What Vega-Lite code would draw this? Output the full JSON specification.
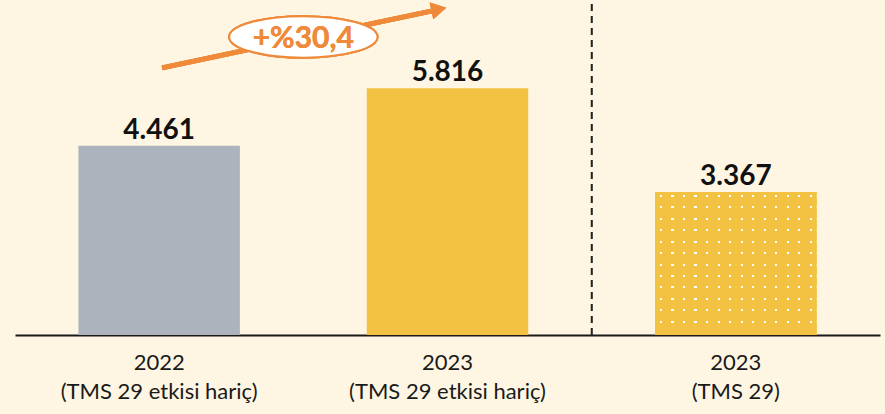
{
  "$schema": "https://vega.github.io/schema/vega-lite/v6.json",
  "width": 865,
  "height": 335,
  "autosize": {"type": "none"},
  "padding": {"left": 15, "right": 5, "top": 0, "bottom": 79},
  "background": "#FEF6E3",
  "config": {"view": {"stroke": null}, "font": "Lato"},
  "data": {"values": [
    {"kategori": "2022|(TMS 29 etkisi hariç)", "deger": 4.461, "etiket": "4.461", "grup": "2022"},
    {"kategori": "2023|(TMS 29 etkisi hariç)", "deger": 5.816, "etiket": "5.816", "grup": "2023"},
    {"kategori": "2023|(TMS 29)", "deger": 3.367, "etiket": "3.367", "grup": "2023 TMS"}
  ]},
  "resolve": {"scale": {"x": "independent"}},
  "layer": [
    {
      "encoding": {
        "x": {"field": "kategori", "type": "nominal", "sort": null,
          "scale": {"paddingInner": 0.44, "paddingOuter": 0.22},
          "axis": {"title": null, "labelExpr": "split(datum.label, '|')", "labelAngle": 0,
            "labelFontSize": 22, "labelColor": "#1a1a1a", "labelLineHeight": 29, "labelLimit": 0,
            "labelPadding": 17, "ticks": false, "domainColor": "#1a1a1a", "domainWidth": 2,
            "labelFont": "Lato"}},
        "y": {"field": "deger", "type": "quantitative", "scale": {"domain": [0, 7.9], "nice": false}, "axis": null}
      },
      "layer": [
        {
          "mark": {"type": "bar"},
          "encoding": {
            "color": {"field": "grup", "type": "nominal",
              "scale": {"domain": ["2022", "2023", "2023 TMS"], "range": ["#ADB3BD", "#F4C242", "#F4C242"]},
              "legend": null}
          }
        },
        {
          "transform": [{"filter": "datum.grup === '2023 TMS'"}],
          "mark": {"type": "bar", "fill": {"gradient": "linear", "x1": 0, "y1": 0, "x2": 0, "y2": 1, "stops": [
            {"offset": 0, "color": "#F4C242"},
            {"offset": 0.02, "color": "#F4C242"}, {"offset": 0.02, "color": "#FFFFFF"}, {"offset": 0.034, "color": "#FFFFFF"}, {"offset": 0.034, "color": "#F4C242"},
            {"offset": 0.10, "color": "#F4C242"}, {"offset": 0.10, "color": "#FFFFFF"}, {"offset": 0.114, "color": "#FFFFFF"}, {"offset": 0.114, "color": "#F4C242"},
            {"offset": 0.18, "color": "#F4C242"}, {"offset": 0.18, "color": "#FFFFFF"}, {"offset": 0.194, "color": "#FFFFFF"}, {"offset": 0.194, "color": "#F4C242"},
            {"offset": 0.26, "color": "#F4C242"}, {"offset": 0.26, "color": "#FFFFFF"}, {"offset": 0.274, "color": "#FFFFFF"}, {"offset": 0.274, "color": "#F4C242"},
            {"offset": 0.34, "color": "#F4C242"}, {"offset": 0.34, "color": "#FFFFFF"}, {"offset": 0.354, "color": "#FFFFFF"}, {"offset": 0.354, "color": "#F4C242"},
            {"offset": 0.42, "color": "#F4C242"}, {"offset": 0.42, "color": "#FFFFFF"}, {"offset": 0.434, "color": "#FFFFFF"}, {"offset": 0.434, "color": "#F4C242"},
            {"offset": 0.50, "color": "#F4C242"}, {"offset": 0.50, "color": "#FFFFFF"}, {"offset": 0.514, "color": "#FFFFFF"}, {"offset": 0.514, "color": "#F4C242"},
            {"offset": 0.58, "color": "#F4C242"}, {"offset": 0.58, "color": "#FFFFFF"}, {"offset": 0.594, "color": "#FFFFFF"}, {"offset": 0.594, "color": "#F4C242"},
            {"offset": 0.66, "color": "#F4C242"}, {"offset": 0.66, "color": "#FFFFFF"}, {"offset": 0.674, "color": "#FFFFFF"}, {"offset": 0.674, "color": "#F4C242"},
            {"offset": 0.74, "color": "#F4C242"}, {"offset": 0.74, "color": "#FFFFFF"}, {"offset": 0.754, "color": "#FFFFFF"}, {"offset": 0.754, "color": "#F4C242"},
            {"offset": 0.82, "color": "#F4C242"}, {"offset": 0.82, "color": "#FFFFFF"}, {"offset": 0.834, "color": "#FFFFFF"}, {"offset": 0.834, "color": "#F4C242"},
            {"offset": 0.90, "color": "#F4C242"}, {"offset": 0.90, "color": "#FFFFFF"}, {"offset": 0.914, "color": "#FFFFFF"}, {"offset": 0.914, "color": "#F4C242"},
            {"offset": 1, "color": "#F4C242"}
          ]}}
        },
        {
          "transform": [{"filter": "datum.grup === '2023 TMS'"}],
          "mark": {"type": "bar", "fill": {"gradient": "linear", "x1": 0, "y1": 0, "x2": 1, "y2": 0, "stops": [
            {"offset": 0, "color": "#F4C242"},
            {"offset": 0.03, "color": "#F4C242"}, {"offset": 0.03, "color": "rgba(244,194,66,0)"}, {"offset": 0.043, "color": "rgba(244,194,66,0)"}, {"offset": 0.043, "color": "#F4C242"},
            {"offset": 0.101, "color": "#F4C242"}, {"offset": 0.101, "color": "rgba(244,194,66,0)"}, {"offset": 0.114, "color": "rgba(244,194,66,0)"}, {"offset": 0.114, "color": "#F4C242"},
            {"offset": 0.173, "color": "#F4C242"}, {"offset": 0.173, "color": "rgba(244,194,66,0)"}, {"offset": 0.186, "color": "rgba(244,194,66,0)"}, {"offset": 0.186, "color": "#F4C242"},
            {"offset": 0.244, "color": "#F4C242"}, {"offset": 0.244, "color": "rgba(244,194,66,0)"}, {"offset": 0.257, "color": "rgba(244,194,66,0)"}, {"offset": 0.257, "color": "#F4C242"},
            {"offset": 0.316, "color": "#F4C242"}, {"offset": 0.316, "color": "rgba(244,194,66,0)"}, {"offset": 0.329, "color": "rgba(244,194,66,0)"}, {"offset": 0.329, "color": "#F4C242"},
            {"offset": 0.387, "color": "#F4C242"}, {"offset": 0.387, "color": "rgba(244,194,66,0)"}, {"offset": 0.400, "color": "rgba(244,194,66,0)"}, {"offset": 0.400, "color": "#F4C242"},
            {"offset": 0.459, "color": "#F4C242"}, {"offset": 0.459, "color": "rgba(244,194,66,0)"}, {"offset": 0.472, "color": "rgba(244,194,66,0)"}, {"offset": 0.472, "color": "#F4C242"},
            {"offset": 0.530, "color": "#F4C242"}, {"offset": 0.530, "color": "rgba(244,194,66,0)"}, {"offset": 0.543, "color": "rgba(244,194,66,0)"}, {"offset": 0.543, "color": "#F4C242"},
            {"offset": 0.601, "color": "#F4C242"}, {"offset": 0.601, "color": "rgba(244,194,66,0)"}, {"offset": 0.614, "color": "rgba(244,194,66,0)"}, {"offset": 0.614, "color": "#F4C242"},
            {"offset": 0.673, "color": "#F4C242"}, {"offset": 0.673, "color": "rgba(244,194,66,0)"}, {"offset": 0.686, "color": "rgba(244,194,66,0)"}, {"offset": 0.686, "color": "#F4C242"},
            {"offset": 0.744, "color": "#F4C242"}, {"offset": 0.744, "color": "rgba(244,194,66,0)"}, {"offset": 0.757, "color": "rgba(244,194,66,0)"}, {"offset": 0.757, "color": "#F4C242"},
            {"offset": 0.816, "color": "#F4C242"}, {"offset": 0.816, "color": "rgba(244,194,66,0)"}, {"offset": 0.829, "color": "rgba(244,194,66,0)"}, {"offset": 0.829, "color": "#F4C242"},
            {"offset": 0.887, "color": "#F4C242"}, {"offset": 0.887, "color": "rgba(244,194,66,0)"}, {"offset": 0.900, "color": "rgba(244,194,66,0)"}, {"offset": 0.900, "color": "#F4C242"},
            {"offset": 0.959, "color": "#F4C242"}, {"offset": 0.959, "color": "rgba(244,194,66,0)"}, {"offset": 0.972, "color": "rgba(244,194,66,0)"}, {"offset": 0.972, "color": "#F4C242"},
            {"offset": 1, "color": "#F4C242"}
          ]}}
        },
        {
          "mark": {"type": "text", "fontSize": 28, "fontWeight": "bold", "color": "#111111", "baseline": "alphabetic", "dy": -7, "font": "Lato"},
          "encoding": {"text": {"field": "etiket", "type": "nominal"}}
        }
      ]
    },
    {
      "mark": {"type": "rule", "color": "#222222", "strokeWidth": 1.5, "strokeDash": [7, 5]},
      "encoding": {
        "x": {"datum": 2, "type": "quantitative", "scale": {"domain": [0, 3], "nice": false}, "axis": null},
        "y": {"datum": 0, "type": "quantitative", "scale": {"domain": [0, 7.9], "nice": false}, "axis": null},
        "y2": {"datum": 7.9}
      }
    },
    {
      "mark": {"type": "rule", "color": "#EE8A3A", "strokeWidth": 5},
      "encoding": {
        "x": {"datum": 0.51, "type": "quantitative", "scale": {"domain": [0, 3], "nice": false}, "axis": null},
        "y": {"datum": 6.3, "type": "quantitative", "scale": {"domain": [0, 7.9], "nice": false}, "axis": null},
        "x2": {"datum": 1.46},
        "y2": {"datum": 7.66}
      }
    },
    {
      "mark": {"type": "point", "shape": "triangle-right", "filled": true, "color": "#EE8A3A", "opacity": 1, "size": 300, "angle": -12},
      "encoding": {
        "x": {"datum": 1.47, "type": "quantitative", "scale": {"domain": [0, 3], "nice": false}, "axis": null},
        "y": {"datum": 7.68, "type": "quantitative", "scale": {"domain": [0, 7.9], "nice": false}, "axis": null}
      }
    },
    {
      "mark": {"type": "point", "shape": "M-1,0A1,0.28,0,1,1,1,0A1,0.28,0,1,1,-1,0Z", "filled": false, "fill": "#FFFFFF", "fillOpacity": 1, "stroke": "#EE8A3A", "strokeWidth": 2, "opacity": 1, "size": 22000},
      "encoding": {
        "x": {"datum": 1.0, "type": "quantitative", "scale": {"domain": [0, 3], "nice": false}, "axis": null},
        "y": {"datum": 7.03, "type": "quantitative", "scale": {"domain": [0, 7.9], "nice": false}, "axis": null}
      }
    },
    {
      "mark": {"type": "text", "text": "+%30,4", "fontSize": 30, "fontWeight": "bold", "color": "#EE8A3A", "baseline": "middle", "dy": 2, "font": "Lato"},
      "encoding": {
        "x": {"datum": 1.0, "type": "quantitative", "scale": {"domain": [0, 3], "nice": false}, "axis": null},
        "y": {"datum": 7.03, "type": "quantitative", "scale": {"domain": [0, 7.9], "nice": false}, "axis": null}
      }
    }
  ]
}
